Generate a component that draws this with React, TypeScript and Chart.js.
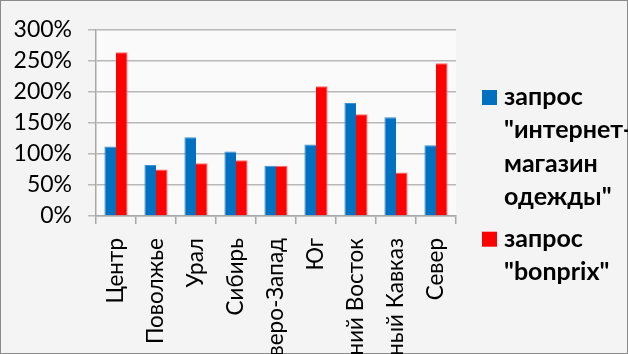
import React, { useEffect, useRef } from "react";
import { Chart, registerables } from "chart.js";

Chart.register(...registerables);

const categories = [
  "Центр",
  "Поволжье",
  "Урал",
  "Сибирь",
  "Северо-Запад",
  "Юг",
  "Дальний Восток",
  "Северный Кавказ",
  "Север",
];
const seriesNames = [
  ["запрос", "\"интернет-", "магазин", "одежды\""],
  ["запрос", "\"bonprix\""],
];
const shopQuery = [112, 82, 127, 104, 81, 115, 182, 159, 114];
const bonprixQuery = [264, 75, 85, 90, 81, 209, 164, 70, 246];
const yTicks = [0, 50, 100, 150, 200, 250, 300];

const colors = ["#0070c0", "#ff0000"];

const bgPlugin = {
  id: "bgPlugin",
  beforeDraw(chart: any) {
    const { ctx, width, height, chartArea } = chart;
    ctx.save();
    ctx.fillStyle = "#f4f4f4";
    ctx.fillRect(0, 0, width, height);
    ctx.fillStyle = "#fafafa";
    ctx.fillRect(chartArea.left, chartArea.top, chartArea.right - chartArea.left, chartArea.bottom - chartArea.top);
    ctx.strokeStyle = "#8a8a8a";
    ctx.lineWidth = 2;
    ctx.strokeRect(0, 0, width, height);
    ctx.restore();
  },
};

const legendPlugin = {
  id: "customLegend",
  afterDraw(chart: any) {
    const { ctx } = chart;
    ctx.save();
    ctx.font = "bold 25px Lato";
    ctx.textBaseline = "alphabetic";
    ctx.textAlign = "left";
    const boxX = 482;
    const textX = 504;
    const lineH = 33.3;
    let baseline = 105;
    chart.data.datasets.forEach((ds: any) => {
      const lines: string[] = ds.legendLines;
      ctx.fillStyle = ds.backgroundColor;
      ctx.fillRect(boxX, baseline - 15, 15, 15);
      ctx.fillStyle = "#000000";
      lines.forEach((ln, j) => {
        ctx.fillText(ln, textX, baseline + j * lineH);
      });
      baseline += lines.length * lineH + 8.5;
    });
    ctx.restore();
  },
};

export default function App() {
  const ref = useRef<HTMLCanvasElement>(null);
  useEffect(() => {
    document.body.style.margin = "0";
    const chart = new Chart(ref.current!, {
      type: "bar",
      data: {
        labels: categories,
        datasets: [
          {
            label: seriesNames[0].join(" "),
            legendLines: seriesNames[0],
            data: shopQuery,
            backgroundColor: colors[0],
            borderColor: "#3b8fd6",
            borderWidth: { left: 1, top: 1, right: 0, bottom: 0 },
            categoryPercentage: 0.58,
            barPercentage: 1,
          } as any,
          {
            label: seriesNames[1].join(" "),
            legendLines: seriesNames[1],
            data: bonprixQuery,
            backgroundColor: colors[1],
            borderColor: "#ff6b6b",
            borderWidth: { left: 0, top: 1, right: 1, bottom: 0 },
            categoryPercentage: 0.58,
            barPercentage: 1,
          } as any,
        ],
      },
      options: {
        animation: false,
        responsive: false,
        maintainAspectRatio: false,
        layout: { padding: { left: 0, top: 23, right: 172, bottom: 0 } },
        plugins: {
          legend: { display: false },
          tooltip: { enabled: false },
        },
        scales: {
          x: {
            grid: {
              display: true,
              drawOnChartArea: false,
              offset: true,
              tickLength: 8,
              color: "#a8a8a8",
              lineWidth: 1.5,
            },
            border: { display: true, color: "#a8a8a8", width: 1.5 },
            ticks: {
              autoSkip: false,
              minRotation: 90,
              maxRotation: 90,
              padding: 14,
              color: "#000000",
              font: { family: "Lato", size: 22.5 },
            },
            afterFit(scale: any) {
              scale.height = 354 - 216;
            },
          },
          y: {
            min: 0,
            max: 300,
            afterBuildTicks(scale: any) {
              scale.ticks = yTicks.map((v) => ({ value: v }));
            },
            grid: {
              color: "#b8b8b8",
              lineWidth: 1.5,
              tickLength: 8,
            },
            border: { display: true, color: "#a8a8a8", width: 1.5 },
            ticks: {
              padding: 16,
              color: "#000000",
              font: { family: "Lato", size: 23 },
              callback: (v: any) => v + "%",
            },
            afterFit(scale: any) {
              scale.width = 96;
            },
          },
        },
      },
      plugins: [bgPlugin, legendPlugin],
    });
    return () => chart.destroy();
  }, []);
  return (
    <div style={{ width: 628, height: 354, overflow: "hidden" }}>
      <canvas ref={ref} width={628} height={354} style={{ display: "block" }} />
    </div>
  );
}
